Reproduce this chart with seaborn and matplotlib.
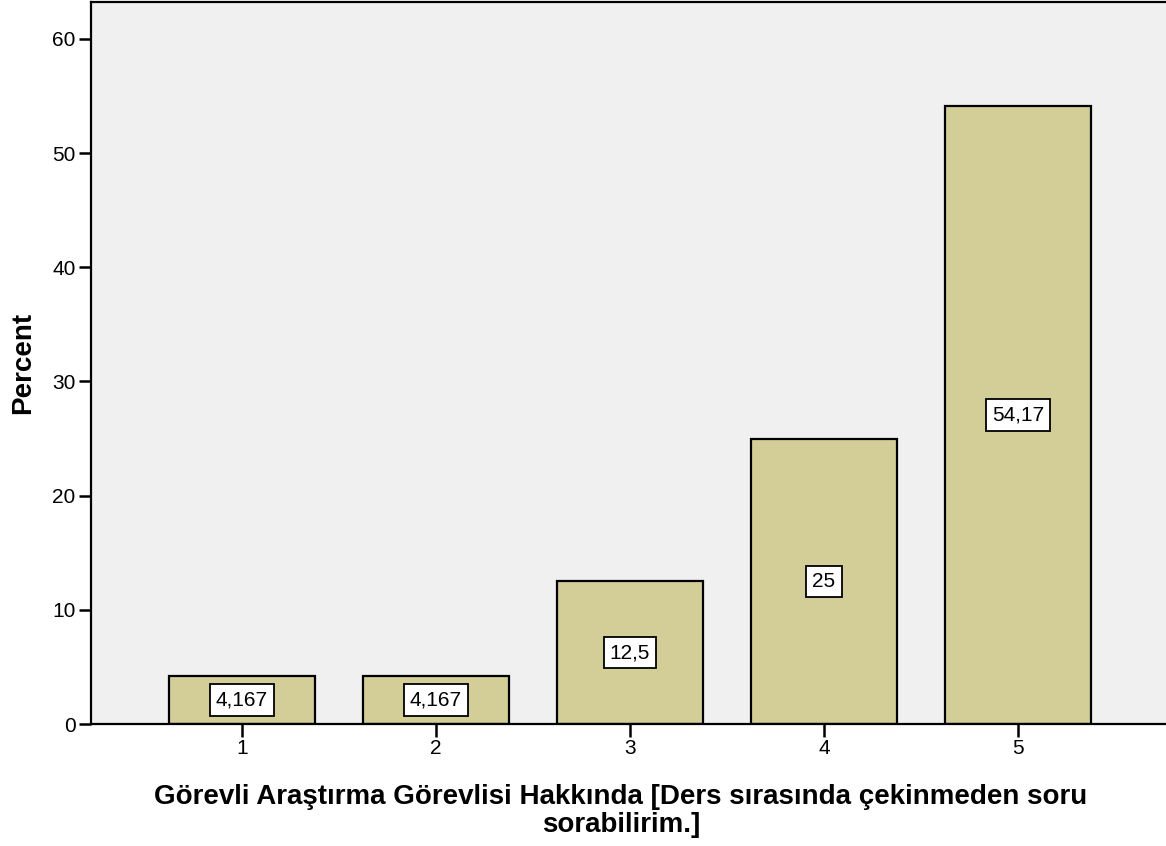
import matplotlib
matplotlib.use("Agg")
import matplotlib.pyplot as plt
import seaborn as sns
import pandas as pd

# Data
categories = ["1", "2", "3", "4", "5"]
percents = [4.167, 4.167, 12.5, 25, 54.17]

xlabel_text = "Görevli Araştırma Görevlisi Hakkında [Ders sırasında çekinmeden soru\nsorabilirim.]"
ylabel_text = "Percent"

bar_color = "#d3ce98"
bg_color = "#f0f0f0"

if __name__ == "__main__":
    sns.set_style("ticks")
    plt.rcParams["font.family"] = ["Liberation Sans", "DejaVu Sans"]
    plt.rcParams["text.color"] = "black"
    plt.rcParams["axes.labelcolor"] = "black"

    df = pd.DataFrame({"cat": categories, "pct": percents})

    fig = plt.figure(figsize=(11.66, 8.46), dpi=100)
    ax = fig.add_axes([91 / 1166, 122 / 846, 1078 / 1166, 722 / 846])
    ax.set_facecolor(bg_color)

    sns.barplot(data=df, x="cat", y="pct", color=bar_color, edgecolor="black",
                linewidth=1.6, width=0.75, saturation=1, ax=ax)

    # value labels in the middle of each bar
    for i, v in enumerate(percents):
        lab = f"{v:g}".replace(".", ",")
        ax.text(i, v / 2, lab, ha="center", va="center", fontsize=15, color="black",
                bbox=dict(boxstyle="square,pad=0.3", fc="white", ec="black", lw=1.3))

    ax.set_xlim(-0.778, 4.778)
    ax.set_ylim(0, 63.24)
    ax.set_yticks([0, 10, 20, 30, 40, 50, 60])

    for side in ["left", "top", "bottom", "right"]:
        ax.spines[side].set_linewidth(1.6)
        ax.spines[side].set_color("black")

    ax.tick_params(axis="both", length=9, width=1.8, labelsize=15, pad=2,
                   colors="black", labelcolor="black")

    ax.set_xlabel(xlabel_text, fontsize=20, fontweight="bold", linespacing=1.08)
    ax.xaxis.set_label_coords(530 / 1078, -60 / 722)
    ax.set_ylabel(ylabel_text, fontsize=20, fontweight="bold", labelpad=12)

    fig.savefig("out.png", dpi=100)
